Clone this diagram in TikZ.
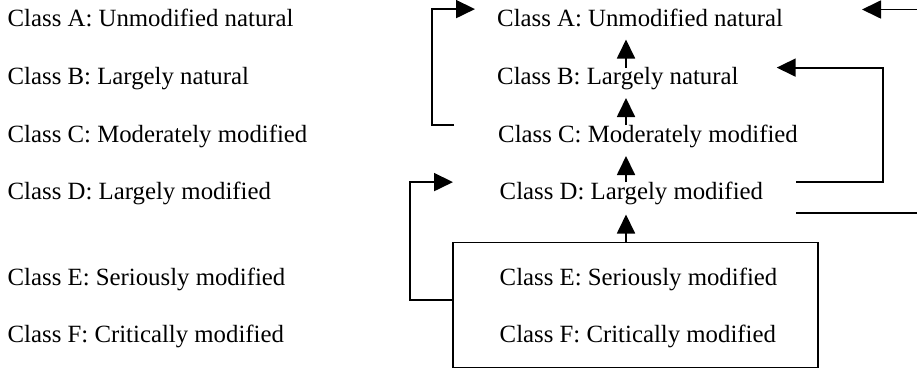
\documentclass[tikz,border=0pt]{standalone}
\usepackage{fontspec}
\setmainfont{Liberation Serif}
\usetikzlibrary{arrows.meta,calc}
\begin{document}
\begin{tikzpicture}[x=1pt,y=-1pt,
  lbl/.style={anchor=south west, inner sep=0pt, text height=17pt, text depth=0pt,
              font=\fontsize{24.8}{30}\selectfont},
  conn/.style={line width=1.8pt},
  arr/.style={conn, -{Triangle[length=19pt,width=18pt]}},
  boxstyle/.style={draw, line width=1.8pt, inner sep=0pt, minimum width=365pt, minimum height=125pt}]
\useasboundingbox (0,0) rectangle (917,369);

% left column
\node[lbl] (lA) at (7.5,26.5)  {Class A: Unmodified natural};
\node[lbl] (lB) at (7.5,85)    {Class B: Largely natural};
\node[lbl] (lC) at (7.5,142.5) {Class C: Moderately modified};
\node[lbl] (lD) at (7.5,199.5) {Class D: Largely modified};
\node[lbl] (lE) at (7.5,286)   {Class E: Seriously modified};
\node[lbl] (lF) at (7.5,343)   {Class F: Critically modified};

% box
\node[boxstyle] (box) at (635.5,305) {};

% right column
\node[lbl] (rA) at (497,26.5)  {Class A: Unmodified natural};
\node[lbl] (rB) at (497,85)    {Class B: Largely natural};
\node[lbl] (rC) at (498,142.5) {Class C: Moderately modified};
\node[lbl] (rD) at (499.5,199.5) {Class D: Largely modified};
\node[lbl] (rE) at (499.5,286)   {Class E: Seriously modified};
\node[lbl] (rF) at (499.5,343)   {Class F: Critically modified};

\coordinate (ax) at (626,0);
\coordinate (edgeA) at (917,9.5);
\coordinate (edgeD) at (917,213);

% upward arrows
\draw[arr] (rB.north -| ax) -- ($(rA.south -| ax)+(0,13)$);
\draw[arr] (rC.north -| ax) -- ($(rB.south -| ax)+(0,13)$);
\draw[arr] (rD.north -| ax) -- ($(rC.south -| ax)+(0,13.5)$);
\draw[arr] (box.north -| ax) -- ($(rD.south -| ax)+(0,15)$);

% left bracket C -> A
\draw[arr] ($(rC.north west)+(-44,0)$) -- ++(-22,0) |- ($(rA.north west)+(-22,0)$);

% right arrow into A
\draw[arr] (edgeA) -- ++(-55,0);

% D -> B bracket on the right
\draw[arr] ($(rD.north east)+(33,0)$) -- ++(87,0) |- ($(rB.north east)+(38,0)$);

% line off to the right from D
\draw[conn] ($(rD.south east)+(33,13.5)$) -- (edgeD);

% box -> D bracket on the left
\draw[arr] ($(box.west)+(0,-5)$) -- ++(-42,0) |- ($(rD.north west)+(-46.5,0)$);
\end{tikzpicture}
\end{document}
